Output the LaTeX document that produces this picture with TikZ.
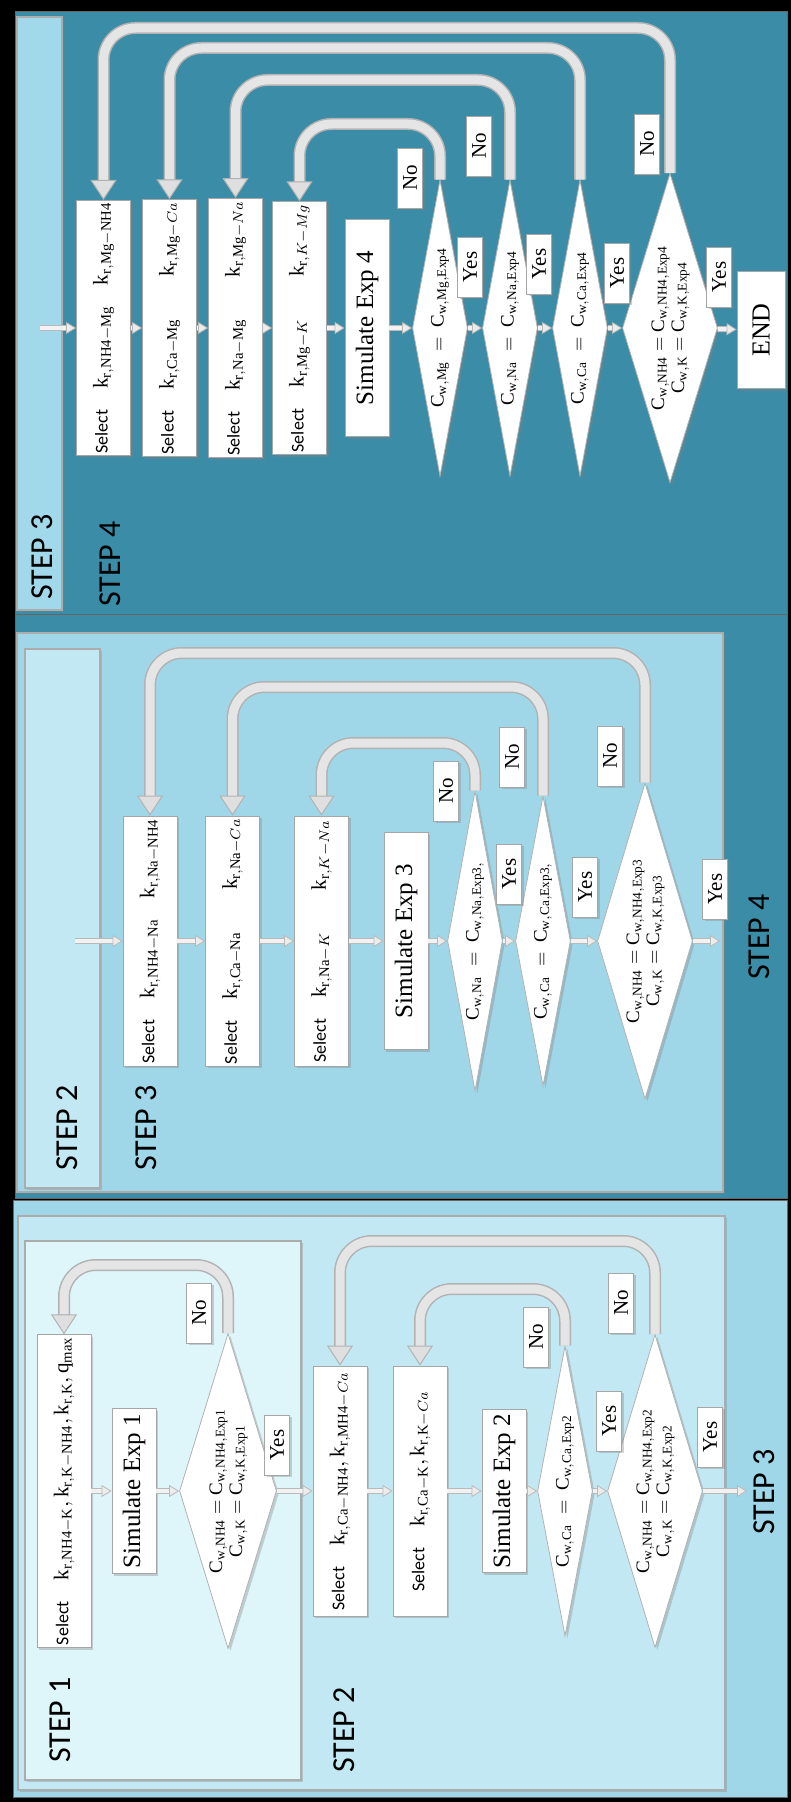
\documentclass[tikz,border=0pt]{standalone}
\usepackage{fontspec}
\setmainfont{Liberation Serif}
\setsansfont{Carlito}
\usetikzlibrary{arrows.meta,positioning,shapes.geometric,shadows}

\definecolor{deepteal}{HTML}{3B8DA7}
\definecolor{stripblue}{HTML}{A2D9EA}
\definecolor{midblue}{HTML}{9FD7E9}
\definecolor{paleblue}{HTML}{C2E9F3}
\definecolor{iceblue}{HTML}{DEF5FA}

\newcommand{\sel}{{\sffamily\fontsize{9}{10}\selectfont Select}}
\newcommand{\kr}[2]{\mathrm{k}_{\mathrm{r,#1}#2}}
\newcommand{\cw}[2]{$\mathrm{C}_{\mathrm{w,#1}}\ =\ \mathrm{C}_{\mathrm{w,#1,#2}}$}
\newcommand{\cwpair}[1]{$\begin{array}{@{}r@{\ =\ }l@{}}
  \mathrm{C}_{\mathrm{w,NH4}} & \mathrm{C}_{\mathrm{w,NH4,#1}}\\
  \mathrm{C}_{\mathrm{w,K}} & \mathrm{C}_{\mathrm{w,K,#1}}
  \end{array}$}

\begin{document}
\begin{tikzpicture}[x=0.5pt, y=-0.5pt,
    softshadow/.style={drop shadow={opacity=0.35, shadow xshift=1.2pt, shadow yshift=-1.2pt}},
    panel/.style={draw=gray!65, line width=0.6pt, softshadow},
    box/.style={rectangle, draw=gray!70, fill=white, rotate=90, inner sep=1pt, softshadow},
    selbox/.style={box, minimum width=125pt, minimum height=27pt, font=\fontsize{10.5}{12}\selectfont},
    simbox/.style={box, minimum width=#1, minimum height=22pt, font=\fontsize{12.5}{14}\selectfont},
    simbox/.default=108.5pt,
    dia/.style={diamond, draw=gray!60, fill=white, rotate=90, inner sep=0pt, softshadow, font=\fontsize{9.5}{10}\selectfont},
    thindia/.style={dia, aspect=5.3, minimum width=#1, minimum height=27.5pt},
    widedia/.style={dia, aspect=3.3, minimum width=#1, minimum height=47.5pt},
    answer/.style={box, inner sep=0pt, minimum width=30pt, minimum height=12.5pt, font=\fontsize{10.5}{11}\selectfont},
    steplabel/.style={rotate=90, font=\sffamily\fontsize{16}{18}\selectfont},
    flow/.style={line width=2pt, draw=gray!10,
        -{Triangle[width=6pt, length=5pt, fill=gray!15, color=gray!55, line width=0.4pt]},
        preaction={draw=gray!55, line width=3pt, arrows=-, shorten >=4pt}},
    tube/.style={line width=4.5pt, draw=gray!20, rounded corners=16pt,
        -{Triangle[width=13pt, length=10pt, fill=gray!25, color=gray!60, line width=0.5pt]},
        preaction={draw=gray!60, line width=6pt, arrows=-, shorten >=9pt}}
]

% Frame and panels
\fill[black] (0,0) rectangle (791,1802);
\draw[black!60, fill=deepteal] (15,11) rectangle (787,614);
\draw[panel, fill=stripblue] (17,17) rectangle (62,610);
\draw[black!60, fill=deepteal] (15,614) rectangle (787,1198);
\draw[panel, fill=midblue] (17,633) rectangle (723,1192);
\draw[panel, fill=paleblue] (25,649) rectangle (100,1188);
\draw[black!60, fill=midblue] (13,1200) rectangle (787,1797);
\draw[panel, fill=paleblue] (18,1216) rectangle (725,1790);
\draw[panel, fill=iceblue] (25,1241) rectangle (301,1780);

% Step labels
\node[steplabel] (t3a) at (42,557) {STEP 3};
\node[steplabel] (t4a) at (110,564) {STEP 4};
\node[steplabel] (t2b) at (67,1128) {STEP 2};
\node[steplabel] (t3b) at (146,1128) {STEP 3};
\node[steplabel] (t4b) at (759,937) {STEP 4};
\node[steplabel] (t1c) at (60,1720) {STEP 1};
\node[steplabel] (t2c) at (344,1730) {STEP 2};
\node[steplabel] (t3c) at (764,1492) {STEP 3};

% Top: step 4 nodes
\coordinate (in4) at (40,328);
\node[selbox] (s4a) at (103.5,328) {\sel\quad $\kr{NH4-Mg}{}$\quad $\kr{Mg-NH4}{}$};
\node[selbox] (s4b) at (169.5,328) {\sel\quad $\kr{Ca-Mg}{}$\qquad $\kr{Mg-}{Ca}$};
\node[selbox] (s4c) at (235.5,328) {\sel\quad $\kr{Na-Mg}{}$\qquad $\kr{Mg-}{Na}$};
\node[selbox] (s4d) at (299.5,328) {\sel\quad $\kr{Mg-}{K}$\qquad $\kr{}{K-Mg}$};
\node[simbox] (sim4) at (367,328) {Simulate Exp 4};
\node[thindia=148pt] (d4a) at (440,328) {\cw{Mg}{Exp4}};
\node[thindia=148pt] (d4b) at (510,328) {\cw{Na}{Exp4}};
\node[thindia=148pt] (d4c) at (580,328) {\cw{Ca}{Exp4}};
\node[widedia=154.5pt] (d4d) at (670,328) {\cwpair{Exp4}};
\node[box, minimum width=58.5pt, minimum height=24pt, font=\fontsize{13}{14}\selectfont] (end) at (761,330) {END};

\node[answer] (no4a) at (410,178) {No};
\node[answer] (no4b) at (479,146) {No};
\node[answer] (no4d) at (647,144) {No};
\node[answer] (yes4a) at (470,267) {Yes};
\node[answer] (yes4b) at (539,264) {Yes};
\node[answer] (yes4c) at (617,273) {Yes};
\node[answer] (yes4d) at (719,277) {Yes};

% Middle: step 3 nodes
\coordinate (in3) at (75,941);
\node[selbox] (s3a) at (150,941) {\sel\quad $\kr{NH4-Na}{}$\quad $\kr{Na-NH4}{}$};
\node[selbox] (s3b) at (232.5,941) {\sel\quad $\kr{Ca-Na}{}$\qquad $\kr{Na-}{Ca}$};
\node[selbox] (s3c) at (321.5,941) {\sel\quad $\kr{Na-}{K}$\qquad $\kr{}{K-Na}$};
\node[simbox] (sim3) at (406,941) {Simulate Exp 3};
\node[thindia=150pt] (d3a) at (475,941) {\cw{Na}{Exp3,}};
\node[thindia=145pt] (d3b) at (543,941) {\cw{Ca}{Exp3,}};
\node[widedia=158pt] (d3c) at (645,941) {\cwpair{Exp3}};
\coordinate (out3) at (720,941);

\node[answer] (no3a) at (446,791) {No};
\node[answer] (no3b) at (512,757) {No};
\node[answer] (no3c) at (610,756) {No};
\node[answer] (yes3a) at (509,874) {Yes};
\node[answer] (yes3b) at (585,887) {Yes};
\node[answer] (yes3c) at (715,889) {Yes};

% Bottom: steps 1 and 2 nodes
\node[selbox, minimum width=153.5pt] (s1) at (64,1491) {\sel\quad $\kr{NH4-K}{},\kr{K-NH4}{},\kr{K}{},\mathrm{q}_{\mathrm{max}}$};
\node[simbox=82.5pt] (sim1) at (134,1491) {Simulate Exp 1};
\node[widedia=157.5pt, minimum height=48.5pt] (d1) at (228,1491) {\cwpair{Exp1}};
\node[selbox] (s2a) at (340,1491) {\sel\quad $\kr{Ca-NH4}{},\kr{MH4-}{Ca}$};
\node[selbox] (s2b) at (420,1491) {\sel\quad $\kr{Ca-K}{},\kr{K-}{Ca}$};
\node[simbox=81.5pt] (sim2) at (504,1491) {Simulate Exp 2};
\node[thindia=145pt] (d2a) at (565,1491) {\cw{Ca}{Exp2}};
\node[widedia=156.5pt] (d2b) at (655,1491) {\cwpair{Exp2}};
\coordinate (out2) at (747,1491);

\node[answer] (no1) at (199,1313) {No};
\node[answer] (no2a) at (536,1337) {No};
\node[answer] (no2b) at (621,1303) {No};
\node[answer] (yes1) at (277,1445) {Yes};
\node[answer] (yes2a) at (609,1421) {Yes};
\node[answer] (yes2b) at (710,1437) {Yes};

% Arrows
\draw[flow] (in4) -- (s4a);
\draw[flow] (s4a) -- (s4b);
\draw[flow] (s4b) -- (s4c);
\draw[flow] (s4c) -- (s4d);
\draw[flow] (s4d) -- (sim4);
\draw[flow] (sim4) -- (d4a);
\draw[flow] (d4a) -- (d4b);
\draw[flow] (d4b) -- (d4c);
\draw[flow] (d4c) -- (d4d);
\draw[flow] (d4d) -- (end);

\draw[flow] (in3) -- (s3a);
\draw[flow] (s3a) -- (s3b);
\draw[flow] (s3b) -- (s3c);
\draw[flow] (s3c) -- (sim3);
\draw[flow] (sim3) -- (d3a);
\draw[flow] (d3a) -- (d3b);
\draw[flow] (d3b) -- (d3c);
\draw[flow] (d3c) -- (out3);

\draw[flow] (s1) -- (sim1);
\draw[flow] (sim1) -- (d1);
\draw[flow] (d1) -- (s2a);
\draw[flow] (s2a) -- (s2b);
\draw[flow] (s2b) -- (sim2);
\draw[flow] (sim2) -- (d2a);
\draw[flow] (d2a) -- (d2b);
\draw[flow] (d2b) -- (out2);

% Feedback loops
\draw[tube] (d4a.east) -- (d4a.east |- 0,124) -| (s4d.east);
\draw[tube] (d4b.east) -- (d4b.east |- 0,80) -| (s4c.east);
\draw[tube] (d4c.east) -- (d4c.east |- 0,48) -| (s4b.east);
\draw[tube] (d4d.east) -- (d4d.east |- 0,28) -| (s4a.east);

\draw[tube] (d3a.east) -- (d3a.east |- 0,743) -| (s3c.east);
\draw[tube] (d3b.east) -- (d3b.east |- 0,687) -| (s3b.east);
\draw[tube] (d3c.east) -- (d3c.east |- 0,653) -| (s3a.east);

\draw[tube] (d1.east) -- (d1.east |- 0,1265) -| (s1.east);
\draw[tube] (d2a.east) -- (d2a.east |- 0,1289) -| (s2b.east);
\draw[tube] (d2b.east) -- (d2b.east |- 0,1241) -| (s2a.east);

\end{tikzpicture}
\end{document}
